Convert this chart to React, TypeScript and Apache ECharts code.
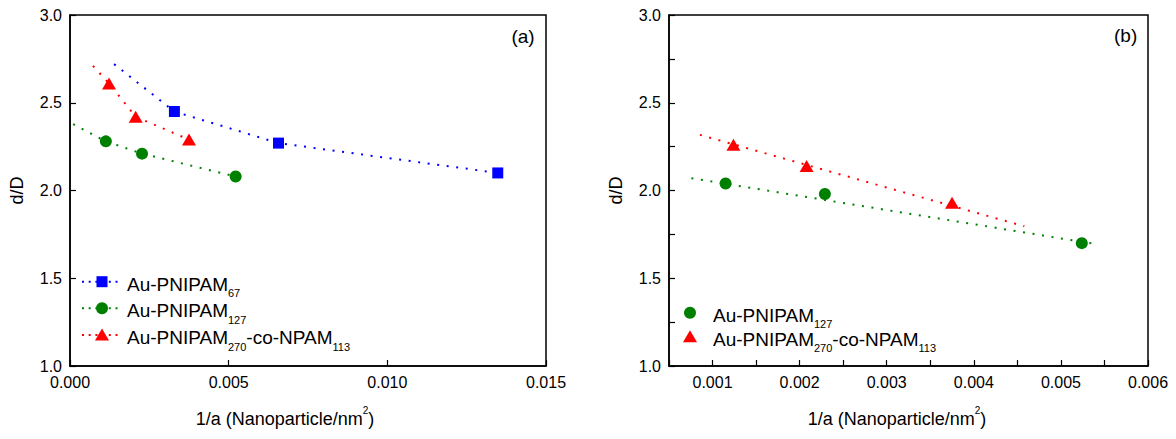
import React, { useEffect, useRef } from 'react';
import * as echarts from 'echarts';

const FONT = '"Liberation Sans", Arial, Helvetica, sans-serif';
const BLUE = '#0000FF';
const GREEN = '#008000';
const RED = '#FF0000';

// ---------- Panel (a) ----------
const aP67X = [0.00329, 0.00657, 0.01348];
const aP67Y = [2.45, 2.27, 2.1];
const aP127X = [0.00113, 0.00227, 0.00522];
const aP127Y = [2.28, 2.21, 2.08];
const aCoX = [0.00123, 0.00207, 0.00375];
const aCoY = [2.61, 2.42, 2.29];
// start points of the dotted guide lines
const aP67LineStart = [0.00139, 2.72];
const aP127LineStart = [0.0001, 2.378];
const aCoLineStart = [0.000725, 2.71];

// ---------- Panel (b) ----------
const bP127X = [0.00115, 0.00229, 0.00524];
const bP127Y = [2.04, 1.98, 1.7];
const bCoX = [0.00124, 0.00208, 0.00375];
const bCoY = [2.26, 2.14, 1.93];
// linear fit end points
const bP127FitX = [0.000757, 0.005359];
const bP127FitY = [2.07, 1.698];
const bCoFitX = [0.000855, 0.00458];
const bCoFitY = [2.317, 1.796];

const aXTicks = { min: 0, max: 0.015, interval: 0.005 };
const bXTicks = { min: 0.0005, max: 0.006, interval: 0.0005 };

const pairs = (xs: number[], ys: number[]) => xs.map((x, i) => [x, ys[i]]);

const axisCommon = {
  type: 'value' as const,
  axisLine: { show: true, onZero: false, lineStyle: { color: '#000', width: 1.5 } },
  axisTick: { show: true, inside: true, length: 6, lineStyle: { color: '#000', width: 1.2 } },
  splitLine: { show: false },
};

const labelStyle = { color: '#000', fontSize: 16, fontFamily: FONT, margin: 8 };

const dotted = (color: string) => ({ color, width: 2, type: [2, 7.6] as any });

const LEG_FS = 19;

function legendRow(
  y: number,
  color: string,
  shape: 'rect' | 'circle' | 'triangle',
  text: string,
  sx: number,
  tx: number,
  withLine: boolean
) {
  const els: any[] = [];
  if (withLine) {
    els.push({
      type: 'line',
      shape: { x1: sx - 20, y1: y, x2: sx + 20, y2: y },
      style: { stroke: color, lineWidth: 2, lineDash: [2, 4.7] },
      z: 10,
    });
  }
  if (shape === 'rect') {
    els.push({ type: 'rect', shape: { x: sx - 5.5, y: y - 5.5, width: 11, height: 11 }, style: { fill: color }, z: 11 });
  } else if (shape === 'circle') {
    els.push({ type: 'circle', shape: { cx: sx, cy: y, r: 6 }, style: { fill: color }, z: 11 });
  } else {
    els.push({
      type: 'polygon',
      shape: { points: [[sx, y - 6.5], [sx + 7, y + 5.5], [sx - 7, y + 5.5]] },
      style: { fill: color },
      z: 11,
    });
  }
  els.push({
    type: 'text',
    x: tx,
    y: y + 2.5,
    z: 11,
    style: {
      text,
      align: 'left',
      verticalAlign: 'middle',
      rich: {
        a: { fontSize: LEG_FS, lineHeight: 19, verticalAlign: 'top', fontFamily: FONT, fill: '#000' },
        s: { fontSize: 11, lineHeight: 11, padding: [13, 0, 0, 0], verticalAlign: 'top', fontFamily: FONT, fill: '#000' },
      },
    },
  });
  return els;
}

const xTitleRich = {
  n: { fontSize: 18, lineHeight: 18, verticalAlign: 'bottom', fontFamily: FONT, fill: '#000' },
  s: { fontSize: 10, lineHeight: 10, padding: [0, 0, 13, 0], verticalAlign: 'bottom', fontFamily: FONT, fill: '#000' },
};

export default function App() {
  const ref = useRef<HTMLDivElement>(null);
  useEffect(() => {
    if (!ref.current) return;
    const chart = echarts.init(ref.current, null, { renderer: 'svg' });
    const option: any = {
      animation: false,
      backgroundColor: '#fff',
      grid: [
        { left: 70, top: 15, width: 476, height: 351, show: true, borderColor: '#000', borderWidth: 1.5 },
        { left: 669, top: 15, width: 479, height: 351, show: true, borderColor: '#000', borderWidth: 1.5 },
      ],
      xAxis: [
        {
          ...axisCommon,
          gridIndex: 0,
          min: aXTicks.min,
          max: aXTicks.max,
          interval: aXTicks.interval,
          axisLabel: { ...labelStyle, formatter: (v: number) => v.toFixed(3) },
        },
        {
          ...axisCommon,
          gridIndex: 1,
          min: bXTicks.min,
          max: bXTicks.max,
          interval: bXTicks.interval,
          axisLabel: {
            ...labelStyle,
            formatter: (v: number) => (Math.round(v / 0.0005) % 2 === 0 ? v.toFixed(3) : ''),
          },
        },
      ],
      yAxis: [
        {
          ...axisCommon,
          gridIndex: 0,
          min: 1,
          max: 3,
          interval: 0.5,
          axisLabel: { ...labelStyle, formatter: (v: number) => v.toFixed(1) },
        },
        {
          ...axisCommon,
          gridIndex: 1,
          min: 1,
          max: 3,
          interval: 0.25,
          axisLabel: {
            ...labelStyle,
            formatter: (v: number) => (Math.round(v / 0.25) % 2 === 0 ? v.toFixed(1) : ''),
          },
        },
      ],
      series: [
        // panel (a) guide lines
        { type: 'line', xAxisIndex: 0, yAxisIndex: 0, data: [aP67LineStart, ...pairs(aP67X, aP67Y)], showSymbol: false, symbol: 'none', lineStyle: dotted(BLUE), z: 1 },
        { type: 'line', xAxisIndex: 0, yAxisIndex: 0, data: [aP127LineStart, ...pairs(aP127X, aP127Y)], showSymbol: false, symbol: 'none', lineStyle: dotted(GREEN), z: 1 },
        { type: 'line', xAxisIndex: 0, yAxisIndex: 0, data: [aCoLineStart, ...pairs(aCoX, aCoY)], showSymbol: false, symbol: 'none', lineStyle: dotted(RED), z: 1 },
        // panel (a) points
        { type: 'scatter', name: 'Au-PNIPAM67', xAxisIndex: 0, yAxisIndex: 0, data: pairs(aP67X, aP67Y), symbol: 'rect', symbolSize: 11, itemStyle: { color: BLUE, opacity: 1 }, z: 3 },
        { type: 'scatter', name: 'Au-PNIPAM127', xAxisIndex: 0, yAxisIndex: 0, data: pairs(aP127X, aP127Y), symbol: 'circle', symbolSize: 12, itemStyle: { color: GREEN, opacity: 1 }, z: 3 },
        { type: 'scatter', name: 'Au-PNIPAM270-co-NPAM113', xAxisIndex: 0, yAxisIndex: 0, data: pairs(aCoX, aCoY), symbol: 'triangle', symbolSize: [14, 12], itemStyle: { color: RED, opacity: 1 }, z: 3 },
        // panel (b) fits
        { type: 'line', xAxisIndex: 1, yAxisIndex: 1, data: pairs(bP127FitX, bP127FitY), showSymbol: false, symbol: 'none', lineStyle: dotted(GREEN), z: 1 },
        { type: 'line', xAxisIndex: 1, yAxisIndex: 1, data: pairs(bCoFitX, bCoFitY), showSymbol: false, symbol: 'none', lineStyle: dotted(RED), z: 1 },
        // panel (b) points
        { type: 'scatter', name: 'b127', xAxisIndex: 1, yAxisIndex: 1, data: pairs(bP127X, bP127Y), symbol: 'circle', symbolSize: 12, itemStyle: { color: GREEN, opacity: 1 }, z: 3 },
        { type: 'scatter', name: 'bCo', xAxisIndex: 1, yAxisIndex: 1, data: pairs(bCoX, bCoY), symbol: 'triangle', symbolSize: [14, 12], itemStyle: { color: RED, opacity: 1 }, z: 3 },
      ],
      graphic: [
        ...legendRow(281.7, BLUE, 'rect', '{a|Au-PNIPAM}{s|67}', 102, 127, true),
        ...legendRow(308.3, GREEN, 'circle', '{a|Au-PNIPAM}{s|127}', 102, 127, true),
        ...legendRow(335, RED, 'triangle', '{a|Au-PNIPAM}{s|270}{a|-co-NPAM}{s|113}', 102, 127, true),
        ...legendRow(312.7, GREEN, 'circle', '{a|Au-PNIPAM}{s|127}', 690, 713, false),
        ...legendRow(336.7, RED, 'triangle', '{a|Au-PNIPAM}{s|270}{a|-co-NPAM}{s|113}', 690, 713, false),
        { type: 'text', x: 523, y: 36.7, style: { text: '(a)', fontSize: 19, fontFamily: FONT, fill: '#000', align: 'center', verticalAlign: 'middle' } },
        { type: 'text', x: 1125.6, y: 35, style: { text: '(b)', fontSize: 19, fontFamily: FONT, fill: '#000', align: 'center', verticalAlign: 'middle' } },
        { type: 'text', x: 17, y: 190.5, rotation: Math.PI / 2, style: { text: 'd/D', fontSize: 18, fontFamily: FONT, fill: '#000', align: 'center', verticalAlign: 'middle' } },
        { type: 'text', x: 616, y: 190.5, rotation: Math.PI / 2, style: { text: 'd/D', fontSize: 18, fontFamily: FONT, fill: '#000', align: 'center', verticalAlign: 'middle' } },
        { type: 'text', x: 285, y: 419.2, style: { text: '{n|1/a (Nanoparticle/nm}{s|2}{n|)}', align: 'center', verticalAlign: 'middle', rich: xTitleRich } },
        { type: 'text', x: 897, y: 419.2, style: { text: '{n|1/a (Nanoparticle/nm}{s|2}{n|)}', align: 'center', verticalAlign: 'middle', rich: xTitleRich } },
      ],
    };
    chart.setOption(option);
    return () => chart.dispose();
  }, []);
  return (
    <div
      ref={ref}
      style={{ position: 'fixed', left: 0, top: 0, width: 1176, height: 439, background: '#fff' }}
    />
  );
}
